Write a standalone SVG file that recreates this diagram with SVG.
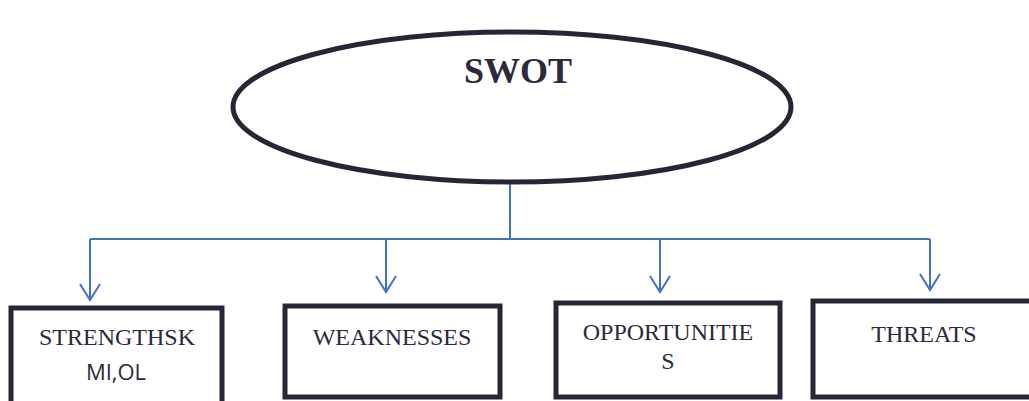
<svg xmlns="http://www.w3.org/2000/svg" width="1029" height="401" viewBox="0 0 1029 401">
<style>
.box{fill:#fff;stroke:#262638;stroke-width:5}
.t{font-family:"Liberation Serif",serif;font-size:24px;fill:#2a2a3c;text-anchor:middle}
.s{font-family:"Open Sans","Liberation Sans",sans-serif;font-size:22px;fill:#2a2a3c;text-anchor:middle}
.c{fill:none;stroke:#4472c4;stroke-width:2}
</style>
<rect width="1029" height="401" fill="#fff"/>
<g id="connectors">
<path class="c" d="M510,184 V239"/>
<path class="c" d="M90,239 H930"/>
<path class="c" d="M90,239 V300"/>
<path class="c" d="M386,239 V292"/>
<path class="c" d="M660,239 V292"/>
<path class="c" d="M930,239 V290"/>
<path class="c" d="M80,284 L90,300 L100,284"/>
<path class="c" d="M376,276 L386,292 L396,276"/>
<path class="c" d="M650,276 L660,292 L670,276"/>
<path class="c" d="M920,274 L930,290 L940,274"/>
</g>
<g id="swot">
<ellipse cx="512" cy="107" rx="279" ry="75" fill="#fff" stroke="#262638" stroke-width="5"/>
<text x="518" y="83" font-family="Liberation Serif,serif" font-weight="bold" font-size="36" fill="#2a2a3c" text-anchor="middle">SWOT</text>
</g>
<g id="strengths">
<rect class="box" x="11" y="308" width="211" height="100"/>
<text class="t" x="117" y="345">STRENGTHSK</text>
<text class="s" x="116" y="380">MI,OL</text>
</g>
<g id="weaknesses">
<rect class="box" x="285" y="306" width="215" height="91"/>
<text class="t" x="392" y="345">WEAKNESSES</text>
</g>
<g id="opportunities">
<rect class="box" x="556" y="303" width="224" height="94"/>
<text class="t" x="668" y="340">OPPORTUNITIE</text>
<text class="t" x="668" y="369">S</text>
</g>
<g id="threats">
<rect class="box" x="813" y="301" width="230" height="96"/>
<text class="t" x="924" y="342">THREATS</text>
</g>
</svg>
